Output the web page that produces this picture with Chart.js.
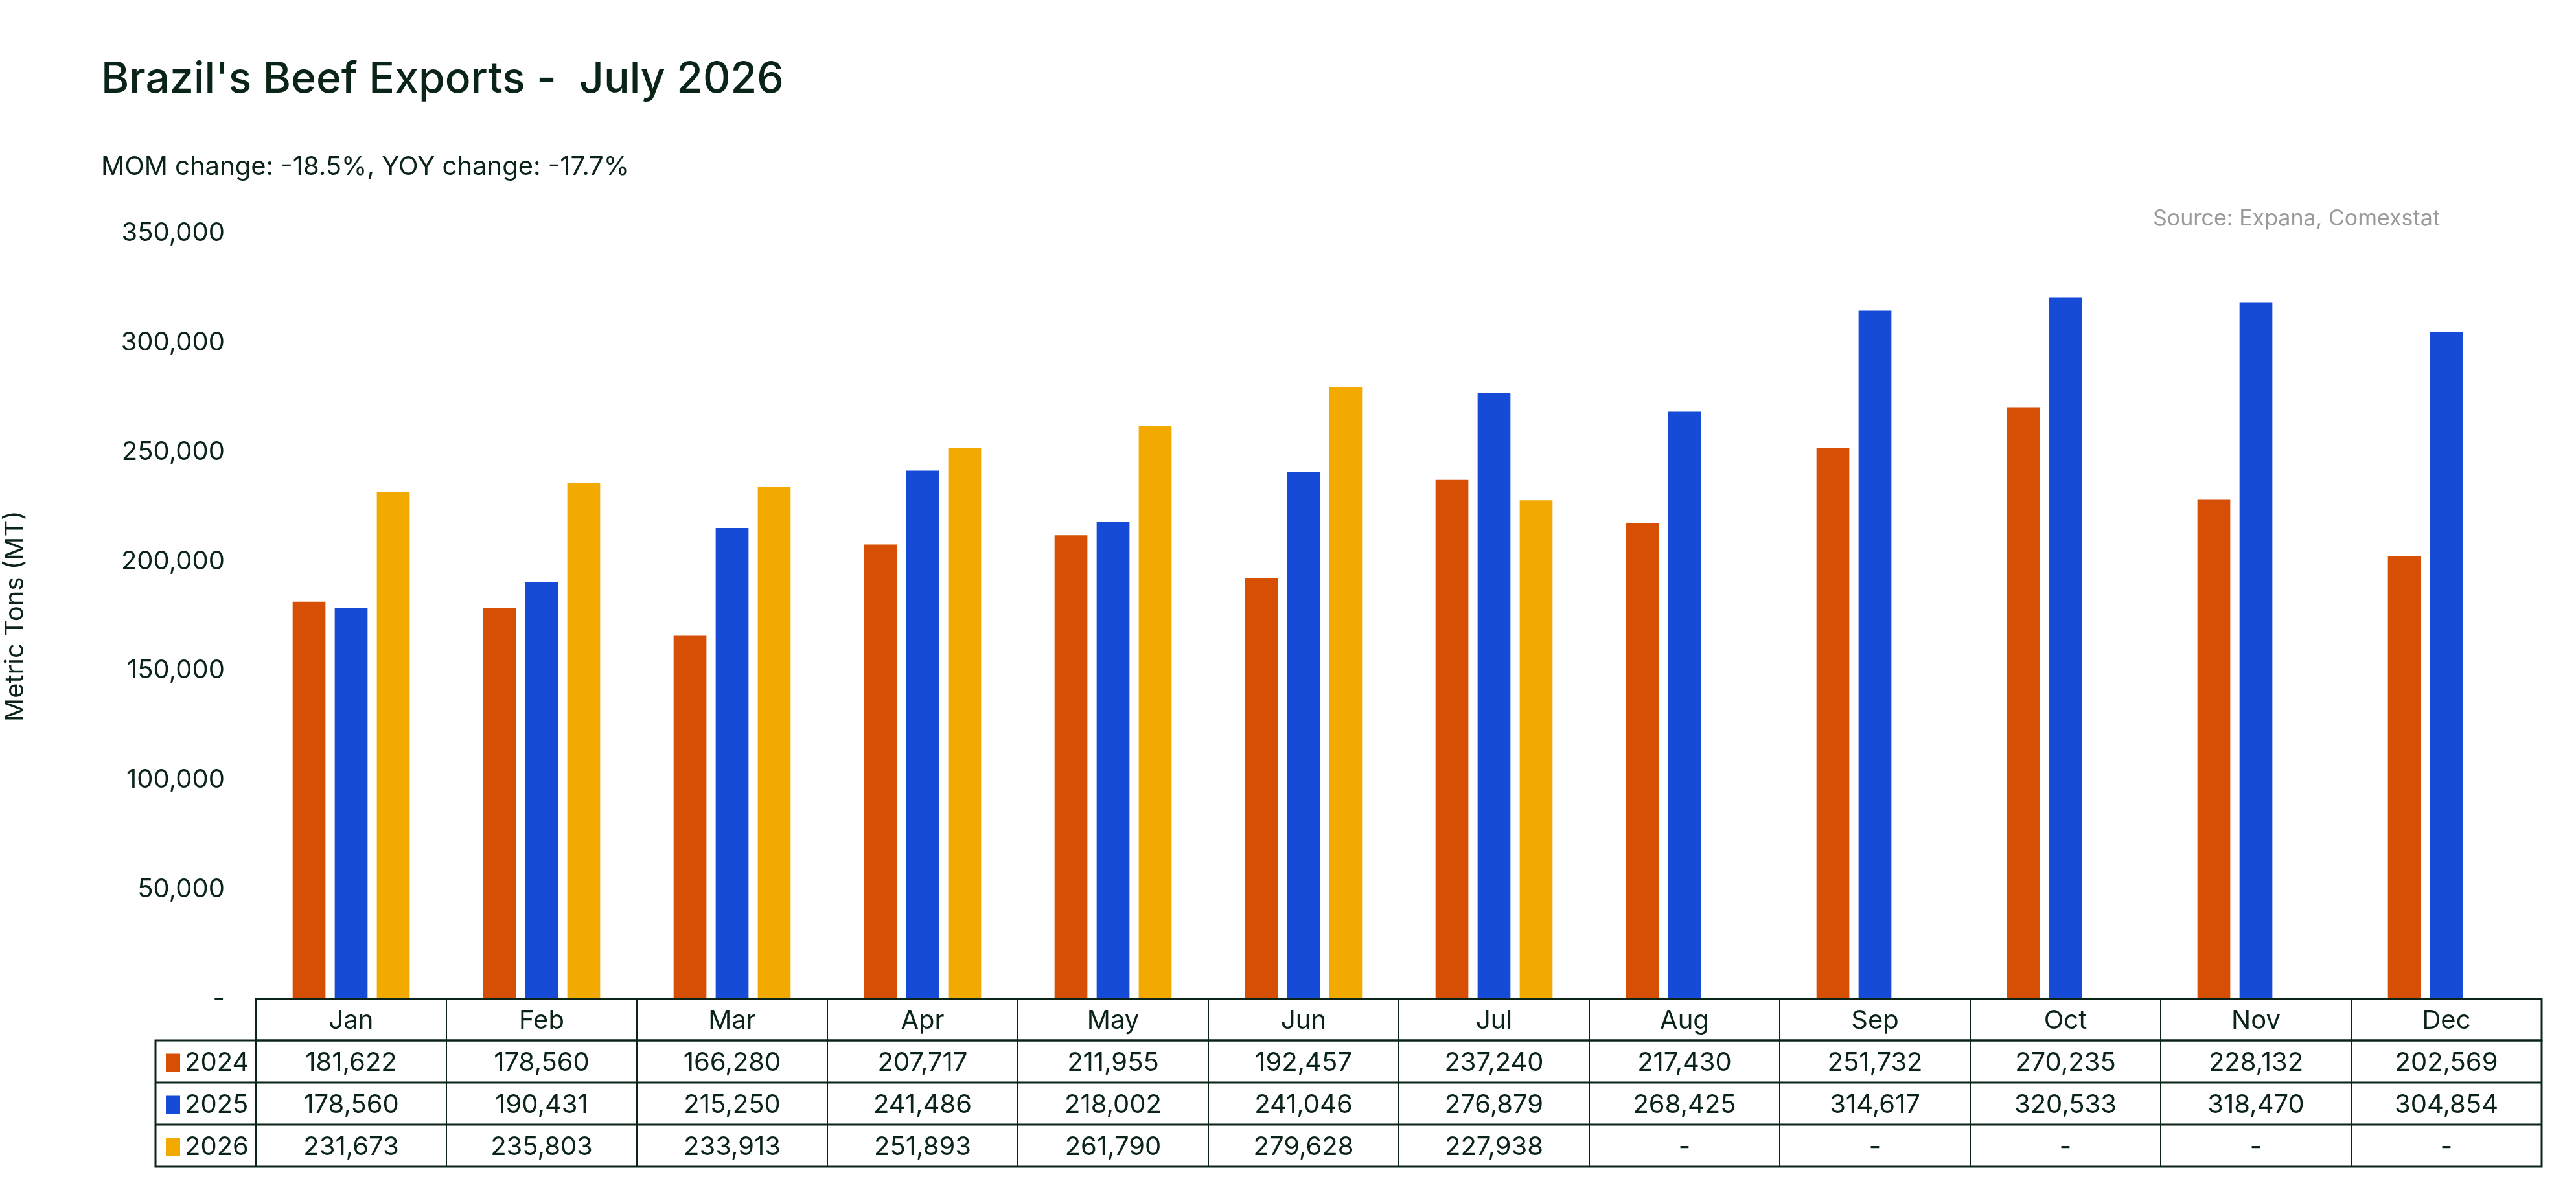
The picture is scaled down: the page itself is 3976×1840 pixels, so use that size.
<!DOCTYPE html>
<html>
<head>
<meta charset="utf-8">
<script src="https://cdn.jsdelivr.net/npm/chart.js@4/dist/chart.umd.min.js"></script>
<style>
  html, body { margin: 0; padding: 0; background: #fff; }
  #wrap { width: 3976px; height: 1840px; }
</style>
</head>
<body>
<div id="wrap"><canvas id="chart" width="3976" height="1840"></canvas></div>
<script>
const months = ["Jan", "Feb", "Mar", "Apr", "May", "Jun", "Jul", "Aug", "Sep", "Oct", "Nov", "Dec"];
const years = ["2024", "2025", "2026"];
const exports2024 = [181622, 178560, 166280, 207717, 211955, 192457, 237240, 217430, 251732, 270235, 228132, 202569];
const exports2025 = [178560, 190431, 215250, 241486, 218002, 241046, 276879, 268425, 314617, 320533, 318470, 304854];
const exports2026 = [231673, 235803, 233913, 251893, 261790, 279628, 227938, null, null, null, null, null];
const colors = ["#D64F04", "#154BD6", "#F2A900"];

const INK = "#0B2418";
const FONT = "Inter, 'Noto Sans', sans-serif";

const fmt = (v) => (v === null ? "-" : v.toLocaleString("en-US"));

// title, subtitle, source and the data table under the plot
const extras = {
  id: "extras",
  afterDraw(chart) {
    const ctx = chart.ctx;
    const x = chart.scales.x;
    const area = chart.chartArea;
    ctx.save();
    ctx.fillStyle = INK;
    ctx.textBaseline = "alphabetic";
    ctx.textAlign = "left";
    ctx.font = "500 66px " + FONT;
    ctx.fillText("Brazil's Beef Exports -  July 2026", 156, 143);
    ctx.font = "40px " + FONT;
    ctx.fillText("MOM change: -18.5%, YOY change: -17.7%", 156, 270);
    ctx.fillStyle = "#9a9a9a";
    ctx.textAlign = "right";
    ctx.font = "34px " + FONT;
    ctx.fillText("Source: Expana, Comexstat", 3766, 348);

    // table
    const colW = (area.right - area.left) / months.length;
    const top = area.bottom;
    const headH = 64, rowH = 65;
    const legL = 240;
    ctx.strokeStyle = INK;
    ctx.lineWidth = 3;
    // header row
    ctx.strokeRect(area.left, top, area.right - area.left, headH);
    ctx.strokeRect(legL, top + headH, area.right - legL, rowH * 3);
    ctx.lineWidth = 2;
    for (let r = 1; r < 3; r++) {
      ctx.beginPath();
      ctx.moveTo(legL, top + headH + r * rowH);
      ctx.lineTo(area.right, top + headH + r * rowH);
      ctx.lineWidth = 3;
      ctx.stroke();
    }
    ctx.lineWidth = 2;
    for (let c = 0; c <= months.length; c++) {
      const cx = area.left + c * colW;
      ctx.beginPath();
      ctx.moveTo(cx, top);
      ctx.lineTo(cx, top + headH + rowH * 3);
      ctx.stroke();
    }
    ctx.font = "40px " + FONT;
    ctx.textAlign = "center";
    ctx.textBaseline = "middle";
    ctx.fillStyle = INK;
    months.forEach((m, i) => {
      ctx.fillText(m, x.getPixelForValue(i), top + headH / 2 + 2);
    });
    chart.data.datasets.forEach((ds, r) => {
      const cy = top + headH + r * rowH + rowH / 2 + 2;
      ctx.fillStyle = colors[r];
      ctx.fillRect(256, cy - 14, 22, 28);
      ctx.fillStyle = INK;
      ctx.textAlign = "left";
      ctx.fillText(ds.label, 285, cy);
      ctx.textAlign = "center";
      ds.data.forEach((v, i) => {
        ctx.fillText(fmt(v), x.getPixelForValue(i), cy);
      });
    });
    ctx.restore();
  }
};

new Chart(document.getElementById("chart"), {
  type: "bar",
  data: {
    labels: months,
    datasets: [exports2024, exports2025, exports2026].map((d, i) => ({
      label: years[i],
      data: d,
      backgroundColor: colors[i],
      categoryPercentage: 0.663,
      barPercentage: 0.78
    }))
  },
  options: {
    responsive: false,
    animation: false,
    devicePixelRatio: 1,
    layout: { padding: { top: 360, bottom: 298, right: 53, left: 0 } },
    plugins: { legend: { display: false }, tooltip: { enabled: false } },
    scales: {
      x: { display: false, grid: { display: false } },
      y: {
        min: 0,
        max: 350000,
        ticks: {
          stepSize: 50000,
          color: INK,
          padding: 48,
          font: { family: FONT, size: 40 },
          callback: (v) => (v === 0 ? "-" : v.toLocaleString("en-US"))
        },
        grid: { display: false, drawTicks: false },
        border: { display: false },
        title: {
          display: true,
          text: "Metric Tons (MT)",
          color: INK,
          font: { family: FONT, size: 40 },
          padding: { top: 0, bottom: 0 }
        },
        afterFit: (s) => { s.width = 395; }
      }
    }
  },
  plugins: [extras]
});
</script>
</body>
</html>
